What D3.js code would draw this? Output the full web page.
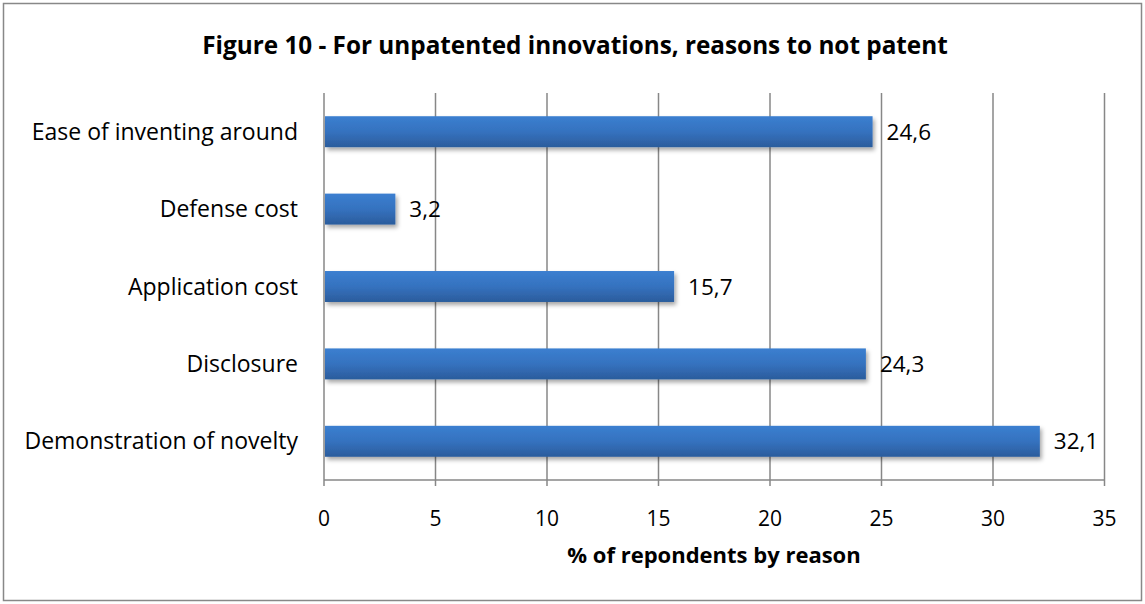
<!DOCTYPE html>
<html><head><meta charset="utf-8">
<script src="https://cdn.jsdelivr.net/npm/d3@7"></script>
<style>body{margin:0;background:#fff;}svg{display:block;font-family:"Open Sans",sans-serif;}</style>
</head><body>
<svg id="c" width="1145" height="604"></svg>
<script>
const categories = ["Ease of inventing around","Defense cost","Application cost","Disclosure","Demonstration of novelty"];
const values = [24.6, 3.2, 15.7, 24.3, 32.1];
const valueLabels = ["24,6","3,2","15,7","24,3","32,1"];
const xTicks = [0,5,10,15,20,25,30,35];
const title = "Figure 10 - For unpatented innovations, reasons to not patent";
const xTitle = "% of repondents by reason";

(function(){
const svg = d3.select("#c");
svg.append("rect").attr("x",3.5).attr("y",3.5).attr("width",1138).attr("height",597)
  .attr("fill","#fff").attr("stroke","#888").attr("stroke-width",1.5);

const defs = svg.append("defs");
const g = defs.append("linearGradient").attr("id","bg").attr("x1",0).attr("y1",0).attr("x2",0).attr("y2",1);
g.append("stop").attr("offset","0%").attr("stop-color","#3b7fd0");
g.append("stop").attr("offset","50%").attr("stop-color","#3572bf");
g.append("stop").attr("offset","100%").attr("stop-color","#2b5c9c");
const f = defs.append("filter").attr("id","sh").attr("x","-5%").attr("y","-20%").attr("width","115%").attr("height","160%");
f.append("feDropShadow").attr("dx",2).attr("dy",3).attr("stdDeviation",2).attr("flood-color","#000").attr("flood-opacity",0.35);

const pl = 324, pr = 1104.5, pt = 93, pb = 480;
const x = d3.scaleLinear().domain([0,35]).range([pl,pr]);
const y = d3.scaleBand().domain(categories).range([pt,pb]).paddingInner(0.6).paddingOuter(0.3);

svg.append("g").selectAll("line").data(xTicks).join("line")
  .attr("x1",d=>x(d)).attr("x2",d=>x(d)).attr("y1",pt).attr("y2",pb)
  .attr("stroke","#878787").attr("stroke-width",1.5);
svg.append("line").attr("x1",pl).attr("x2",pr).attr("y1",pb).attr("y2",pb)
  .attr("stroke","#878787").attr("stroke-width",1.5);
svg.append("g").selectAll("line").data(xTicks).join("line")
  .attr("x1",d=>x(d)).attr("x2",d=>x(d)).attr("y1",pb).attr("y2",pb+6)
  .attr("stroke","#878787").attr("stroke-width",1.5);
svg.append("g").selectAll("text").data(xTicks).join("text")
  .attr("x",d=>x(d)).attr("y",526).attr("text-anchor","middle")
  .attr("font-size",21).attr("fill","#000").text(d=>d);

svg.append("g").selectAll("rect").data(values).join("rect")
  .attr("x",x(0)+1).attr("y",(d,i)=>y(categories[i]))
  .attr("width",d=>x(d)-x(0)-1).attr("height",y.bandwidth())
  .attr("fill","url(#bg)").attr("filter","url(#sh)");

svg.append("g").selectAll("text").data(values).join("text")
  .attr("x",d=>x(d)+14).attr("y",(d,i)=>y(categories[i])+y.bandwidth()/2+8)
  .attr("font-size",22.5).attr("fill","#000").text((d,i)=>valueLabels[i]);

svg.append("g").selectAll("text").data(categories).join("text")
  .attr("x",298).attr("y",d=>y(d)+y.bandwidth()/2+8).attr("text-anchor","end")
  .attr("font-size",23).attr("fill","#000").text(d=>d);

svg.append("text").attr("x",575).attr("y",54).attr("text-anchor","middle")
  .attr("font-size",24.3).attr("font-weight","bold").text(title);
svg.append("text").attr("x",714).attr("y",563).attr("text-anchor","middle")
  .attr("font-size",22).attr("font-weight","bold").text(xTitle);
})();
</script>
</body></html>
